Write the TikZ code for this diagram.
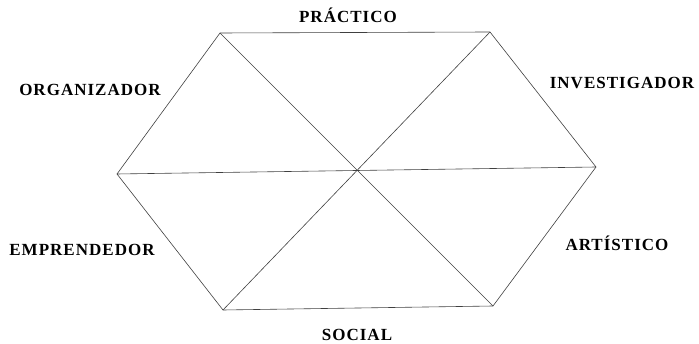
\documentclass[tikz,border=0pt]{standalone}
\usepackage{fontspec}
\setmainfont{Liberation Serif}
\begin{document}
\begin{tikzpicture}[x=1pt,y=-1pt,line width=.6pt,
  line cap=round,line join=round,
  edge/.style={draw=black!75},
  type/.style={inner sep=0pt,font=\fontsize{17}{19}\selectfont\bfseries\addfontfeature{LetterSpace=6}}]
  \useasboundingbox (0,0) rectangle (699,344);
  % vertices of the hexagon and its centre
  \coordinate (tl) at (220,33);
  \coordinate (tr) at (490,32);
  \coordinate (rt) at (596,167);
  \coordinate (br) at (493,306);
  \coordinate (bl) at (223,310);
  \coordinate (lf) at (117,174);
  % outline and the three diagonals
  \draw[edge] (tl)--(tr)--(rt)--(br)--(bl)--(lf)--cycle;
  \draw[edge] (tl)--(br);
  \draw[edge] (tr)--(bl);
  \draw[edge] (lf)--(rt);
  % the six types
  \node[type] (prac) at (348,15) {PRÁCTICO};
  \node[type] (inv) at (622,83) {INVESTIGADOR};
  \node[type] (art) at (617,243) {ARTÍSTICO};
  \node[type] (soc) at (357,335) {SOCIAL};
  \node[type] (emp) at (82,250) {EMPRENDEDOR};
  \node[type] (org) at (90,90) {ORGANIZADOR};
\end{tikzpicture}
\end{document}
